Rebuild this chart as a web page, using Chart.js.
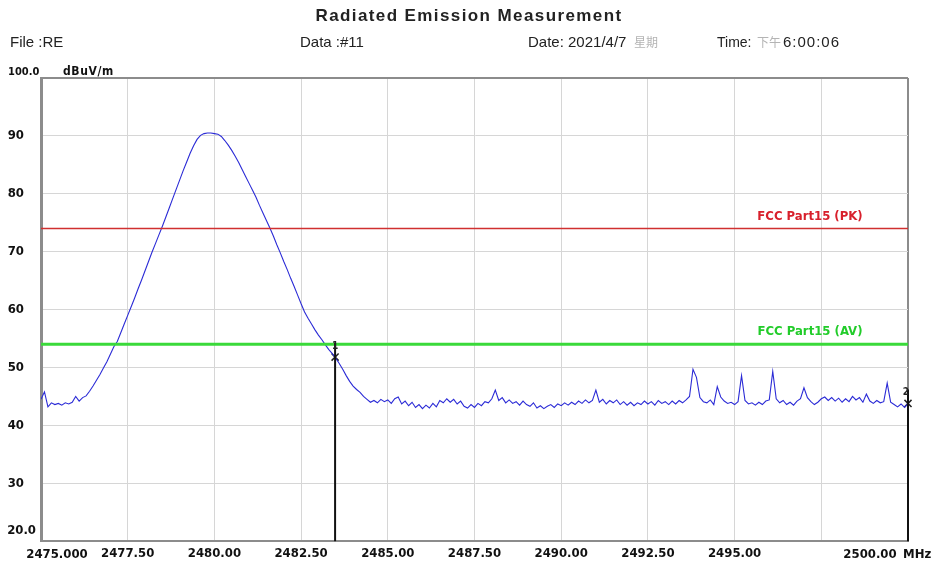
<!DOCTYPE html>
<html>
<head>
<meta charset="UTF-8">
<title>Radiated Emission Measurement</title>
<script src="https://cdn.jsdelivr.net/npm/chart.js"></script>
<style>
  html, body { margin: 0; padding: 0; background: #fff; }
  #chart { display: block; }
</style>
</head>
<body>
<canvas id="chart" width="938" height="566"></canvas>
<script>
// sweep: 2475.0 .. 2500.0 MHz, one reading every 0.1 MHz
const freqStart = 2475.0;
const freqStep = 0.1;

// trace readings, dBuV/m
const levels = [
  44.5, 45.8, 43.2, 43.9, 43.6, 43.8, 43.5, 43.9, 43.7, 44.0, // 2475.0
  45.0, 44.2, 44.8, 45.1, 45.9, 46.8, 47.8, 48.8, 49.9, 51.0, // 2476.0
  52.3, 53.6, 54.5, 56.0, 57.5, 59.0, 60.5, 62.0, 63.6, 65.1, // 2477.0
  66.7, 68.3, 69.9, 71.4, 72.9, 74.4, 76.0, 77.6, 79.2, 80.8, // 2478.0
  82.4, 84.0, 85.5, 87.0, 88.3, 89.4, 90.1, 90.4, 90.5, 90.5, // 2479.0
  90.4, 90.3, 89.9, 89.2, 88.4, 87.5, 86.5, 85.4, 84.2, 83.0, // 2480.0
  81.8, 80.6, 79.4, 78.0, 76.7, 75.4, 74.1, 72.7, 71.2, 69.8, // 2481.0
  68.3, 66.9, 65.4, 64.0, 62.5, 61.0, 59.6, 58.5, 57.5, 56.5, // 2482.0
  55.6, 54.8, 53.9, 53.1, 52.4, 51.6, 50.7, 49.7, 48.6, 47.6, // 2483.0
  46.8, 46.2, 45.7, 45.0, 44.5, 44.0, 44.3, 43.9, 44.5, 44.1, // 2484.0
  44.4, 43.8, 44.6, 44.9, 43.7, 44.2, 43.4, 44.0, 43.1, 43.6, // 2485.0
  42.9, 43.5, 43.0, 43.8, 43.2, 44.3, 43.9, 44.6, 44.0, 44.5, // 2486.0
  43.7, 44.2, 43.3, 43.0, 43.6, 43.1, 43.8, 43.4, 44.1, 43.9, // 2487.0
  44.6, 46.1, 44.3, 44.8, 43.9, 44.4, 43.8, 44.1, 43.5, 44.2, // 2488.0
  43.6, 43.3, 43.9, 43.0, 43.4, 42.9, 43.3, 43.6, 43.1, 43.7, // 2489.0
  43.4, 43.9, 43.5, 44.0, 43.6, 44.2, 43.8, 44.4, 43.9, 44.3, // 2490.0
  46.1, 44.0, 44.5, 43.7, 44.3, 43.9, 44.4, 43.6, 44.1, 43.5, // 2491.0
  44.0, 43.4, 43.9, 43.6, 44.2, 43.7, 44.1, 43.5, 44.3, 43.8, // 2492.0
  44.1, 43.6, 44.2, 43.7, 44.3, 43.9, 44.4, 45.0, 49.7, 48.3, // 2493.0
  44.8, 44.1, 43.9, 44.4, 43.6, 46.7, 44.9, 44.2, 43.8, 44.0, // 2494.0
  43.6, 44.1, 48.6, 44.3, 43.7, 43.9, 43.5, 44.0, 43.6, 44.2, // 2495.0
  44.4, 49.3, 44.6, 43.9, 44.3, 43.6, 44.0, 43.5, 44.2, 44.6, // 2496.0
  46.5, 44.8, 44.1, 43.6, 44.0, 44.6, 44.9, 44.3, 44.8, 44.2, // 2497.0
  44.7, 44.0, 44.6, 44.1, 45.0, 44.4, 44.8, 44.0, 45.4, 44.2, // 2498.0
  43.8, 44.3, 43.9, 44.1, 47.3, 44.0, 43.6, 43.2, 43.7, 43.1, // 2499.0
  43.8                                                        // 2500.0
];

// limit lines
const pkLimit = 74;
const avLimit = 54;
const pkName = 'FCC Part15 (PK)';
const avName = 'FCC Part15 (AV)';

// markers
const markerFreqs = [2483.48, 2500.0];
const markerLevels = [51.8, 43.8];
const markerNames = ['1', '2'];

// axes
const xTickValues = [2475, 2477.5, 2480, 2482.5, 2485, 2487.5, 2490, 2492.5, 2495, 2497.5, 2500];
const xTickText = ['2475.000', '2477.50', '2480.00', '2482.50', '2485.00', '2487.50', '2490.00', '2492.50', '2495.00', '', '2500.00'];
const yTickValues = [20, 30, 40, 50, 60, 70, 80, 90, 100];
const yTickText = ['20.0', '30', '40', '50', '60', '70', '80', '90', '100.0'];

const tickFamily = "'DejaVu Sans Condensed', 'DejaVu Sans', sans-serif";
const textFamily = "'Liberation Sans', Arial, sans-serif";
const frameGray = '#8c8c8c';

const trace = levels.map((v, i) => ({ x: +(freqStart + i * freqStep).toFixed(2), y: v }));
const xMin = xTickValues[0], xMax = xTickValues[xTickValues.length - 1];

// header, unit, end labels, limit names and marker lines
const decor = {
  id: 'decor',
  afterDatasetsDraw(chart) {
    const { ctx, chartArea: a, scales: { x, y } } = chart;
    ctx.save();
    markerFreqs.forEach((f, i) => {
      const px = x.getPixelForValue(f);
      const py = y.getPixelForValue(markerLevels[i]);
      ctx.strokeStyle = '#111';
      ctx.lineWidth = 2;
      ctx.beginPath();
      ctx.moveTo(px, py - 14);
      ctx.lineTo(px, a.bottom);
      ctx.stroke();
      ctx.fillStyle = '#222';
      ctx.font = 'bold 10px ' + tickFamily;
      ctx.textAlign = 'center';
      ctx.textBaseline = 'alphabetic';
      ctx.fillText(markerNames[i], px - (i === 1 ? 2 : 0), py - 8);
    });
    ctx.restore();
  },
  afterDraw(chart) {
    const { ctx, scales: { x, y } } = chart;
    ctx.save();
    ctx.textBaseline = 'alphabetic';

    // title
    ctx.fillStyle = '#222';
    ctx.font = 'bold 17px ' + textFamily;
    ctx.letterSpacing = '1.4px';
    ctx.textAlign = 'center';
    ctx.fillText('Radiated Emission Measurement', 469, 21);
    ctx.letterSpacing = '0px';

    // header line
    ctx.textAlign = 'left';
    ctx.font = '15px ' + textFamily;
    ctx.fillText('File :RE', 10, 47);
    ctx.fillText('Data :#11', 300, 47);
    ctx.fillText('Date: 2021/4/7', 528, 47);
    ctx.font = '14px ' + textFamily;
    ctx.fillText('Time:', 717, 47);
    ctx.font = '15px ' + textFamily;
    ctx.letterSpacing = '1px';
    ctx.fillText('6:00:06', 783, 47);
    ctx.letterSpacing = '0px';
    ctx.fillStyle = '#b4b4b4';
    ctx.font = '12px "Noto Sans CJK SC", sans-serif';
    ctx.fillText('星期', 634, 47);
    ctx.fillText('下午', 757, 47);

    // y unit and end labels
    ctx.fillStyle = '#111';
    ctx.font = 'bold 11px ' + tickFamily;
    ctx.fillText(yTickText[yTickText.length - 1], 8, 75);
    ctx.font = 'bold 12px ' + tickFamily;
    ctx.letterSpacing = '0.6px';
    ctx.fillText('dBuV/m', 63, 75);
    ctx.letterSpacing = '0px';
    ctx.font = 'bold 13px ' + tickFamily;
    ctx.textAlign = 'right';
    ctx.fillText(yTickText[0], 36, y.getPixelForValue(yTickValues[0]) - 7);

    // x end labels and unit
    ctx.textAlign = 'center';
    const xb = chart.chartArea.bottom + 17;
    ctx.fillText(xTickText[0], x.getPixelForValue(xTickValues[0]) + 16, xb);
    ctx.fillText(xTickText[xTickText.length - 1], x.getPixelForValue(xTickValues[xTickValues.length - 1]) - 38, xb);
    ctx.textAlign = 'left';
    ctx.fillText('MHz', 903, xb);

    // limit names
    ctx.textAlign = 'center';
    ctx.font = 'bold 13px ' + tickFamily;
    ctx.fillStyle = '#d8202c';
    ctx.fillText(pkName, 810, y.getPixelForValue(pkLimit) - 9);
    ctx.fillStyle = '#22cc2a';
    ctx.fillText(avName, 810, y.getPixelForValue(avLimit) - 9);
    ctx.restore();
  }
};

new Chart('chart', {
  type: 'line',
  data: {
    datasets: [
      {
        data: [{ x: xMin, y: pkLimit }, { x: xMax, y: pkLimit }],
        borderColor: '#d03030',
        borderWidth: 1.5,
        pointRadius: 0
      },
      {
        data: [{ x: xMin, y: avLimit }, { x: xMax, y: avLimit }],
        borderColor: '#3ada3a',
        borderWidth: 3,
        pointRadius: 0
      },
      {
        data: trace,
        borderColor: '#2b2bd6',
        borderWidth: 1.1,
        pointRadius: 0,
        tension: 0
      },
      {
        data: markerFreqs.map((f, i) => ({ x: f, y: markerLevels[i] })),
        showLine: false,
        pointStyle: 'crossRot',
        pointRadius: 5,
        pointBorderColor: '#222',
        pointBorderWidth: 1.5,
        clip: false
      }
    ]
  },
  options: {
    responsive: false,
    animation: false,
    devicePixelRatio: 1,
    layout: { padding: { left: 0, right: 30, top: 78, bottom: 0 } },
    plugins: { legend: { display: false }, tooltip: { enabled: false } },
    scales: {
      x: {
        type: 'linear',
        min: xMin,
        max: xMax,
        afterBuildTicks: s => { s.ticks = xTickValues.map(v => ({ value: v })); },
        afterFit: s => { s.height = 24; },
        ticks: {
          autoSkip: false,
          maxRotation: 0,
          padding: 5,
          color: '#111',
          font: { family: tickFamily, size: 13, weight: 'bold' },
          callback: (v, i) => (i === 0 || i === xTickValues.length - 1) ? '' : xTickText[i]
        },
        grid: {
          drawTicks: false,
          color: c => c.tick && c.tick.value === xMax ? frameGray : (c.tick && c.tick.value === xMin ? 'rgba(0,0,0,0)' : '#d6d6d6'),
          lineWidth: c => c.tick && c.tick.value === xMax ? 2 : 1
        },
        border: { display: true, color: frameGray, width: 2 }
      },
      y: {
        min: yTickValues[0],
        max: yTickValues[yTickValues.length - 1],
        afterBuildTicks: s => { s.ticks = yTickValues.map(v => ({ value: v })); },
        afterFit: s => { s.width = 41; },
        ticks: {
          padding: 17,
          color: '#111',
          font: { family: tickFamily, size: 13, weight: 'bold' },
          callback: (v, i) => (i === 0 || i === yTickValues.length - 1) ? '' : yTickText[i]
        },
        grid: {
          drawTicks: false,
          color: c => c.tick && c.tick.value === yTickValues[yTickValues.length - 1] ? frameGray : (c.tick && c.tick.value === yTickValues[0] ? 'rgba(0,0,0,0)' : '#d6d6d6'),
          lineWidth: c => c.tick && c.tick.value === yTickValues[yTickValues.length - 1] ? 2 : 1
        },
        border: { display: true, color: frameGray, width: 3 }
      }
    }
  },
  plugins: [decor]
});
</script>
</body>
</html>
